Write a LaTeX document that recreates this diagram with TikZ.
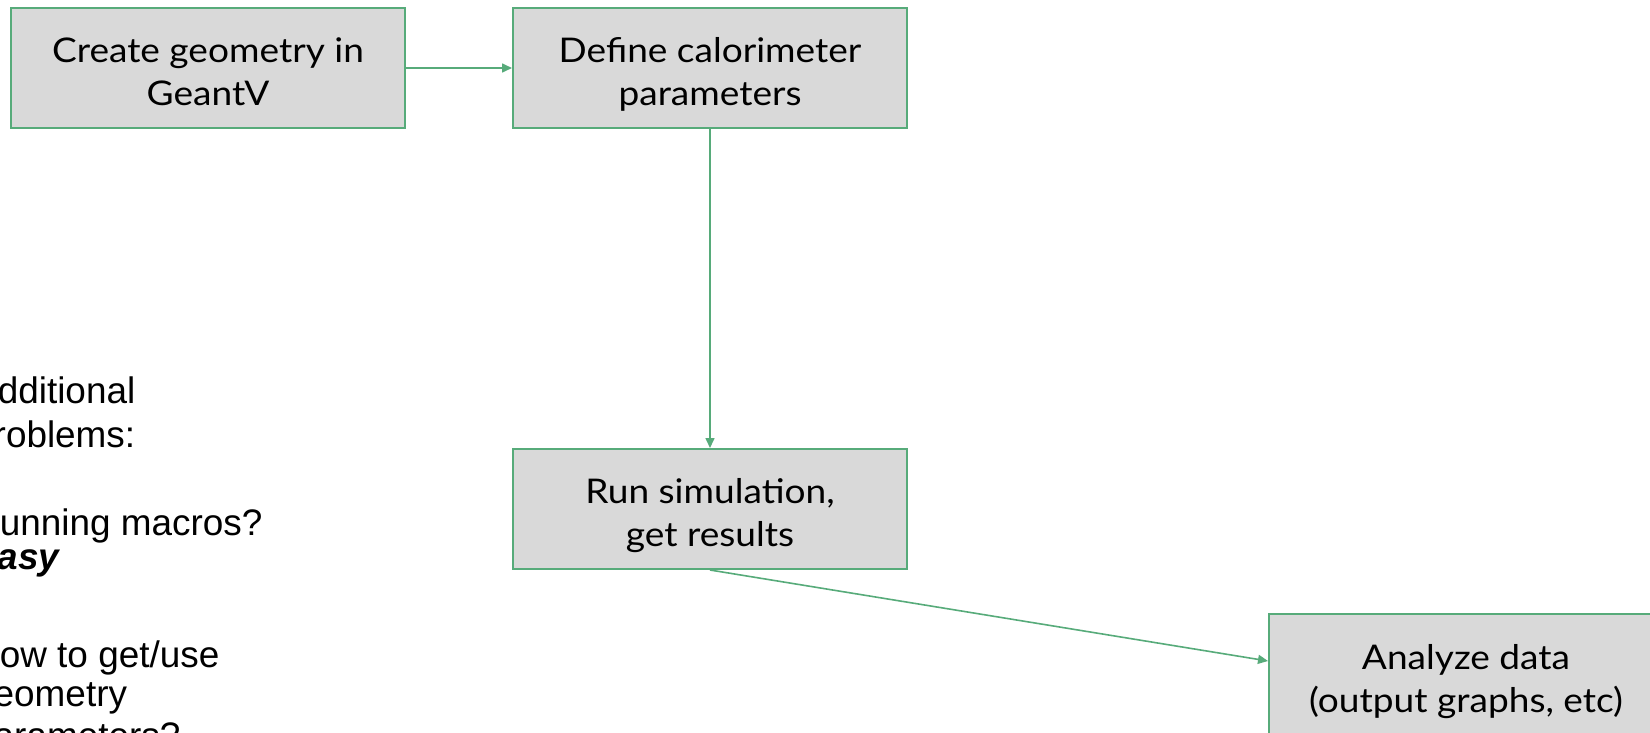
\documentclass[tikz,border=0pt]{standalone}
\usepackage{fontspec}
\setmainfont{Liberation Sans}
\newfontfamily\boxfont[FakeStretch=1.09]{Lato}
\usetikzlibrary{arrows.meta}
\definecolor{edge}{RGB}{87,171,122}
\definecolor{boxfill}{RGB}{217,217,217}
\begin{document}
\begin{tikzpicture}[x=1pt,y=1pt,
  stepbox/.style={draw=edge, line width=2pt, fill=boxfill, minimum width=394pt, minimum height=120pt, inner sep=0pt},
  lbl/.style={anchor=base, font=\boxfont\fontsize{34}{40}\selectfont, inner sep=0pt},
  side/.style={anchor=base west, font=\fontsize{36.9}{44}\selectfont, inner sep=0pt},
  link/.style={draw=edge, line width=1.6pt, -{Triangle[length=10pt,width=9pt]}}]
\useasboundingbox (0,0) rectangle (1650,-733);
\clip (0,0) rectangle (1650,-733);
\fill[white] (0,0) rectangle (1650,-733);
% boxes
\node[stepbox] (b1) at (208,-68) {};
\node[stepbox] (b2) at (710,-68) {};
\node[stepbox] (b3) at (710,-509) {};
\node[stepbox] (b4) at (1466,-674) {};
% labels
\node[lbl] (b1a) at (208,-63) {Create geometry in};
\node[lbl] (b1b) at (208,-106) {GeantV};
\node[lbl] (b2a) at (710,-63) {Define calorimeter};
\node[lbl] (b2b) at (710,-106) {parameters};
\node[lbl] (b3a) at (710,-503) {Run simulation,};
\node[lbl] (b3b) at (710,-546) {get results};
\node[lbl] (b4a) at (1466,-669) {Analyze data};
\node[lbl] (b4b) at (1466,-712) {(output graphs, etc)};
% connectors
\draw[link] (b1.east) -- (b2.west);
\draw[link] (b2.south) -- (b3.north);
\draw[link] (b3.south) -- ([yshift=13pt]b4.west);
% side text
\node[side] (t1) at (-27,-403) {Additional};
\node[side] (t2) at (-27,-447) {problems:};
\node[side] (t3) at (-27,-535) {Running macros?};
\node[side] (t4) at (-27,-569) {\bfseries\itshape Easy};
\node[side] (t5) at (-27,-667) {How to get/use};
\node[side] (t6) at (-27,-706) {geometry};
\node[side] (t7) at (-27,-748) {parameters?};
\end{tikzpicture}
\end{document}
